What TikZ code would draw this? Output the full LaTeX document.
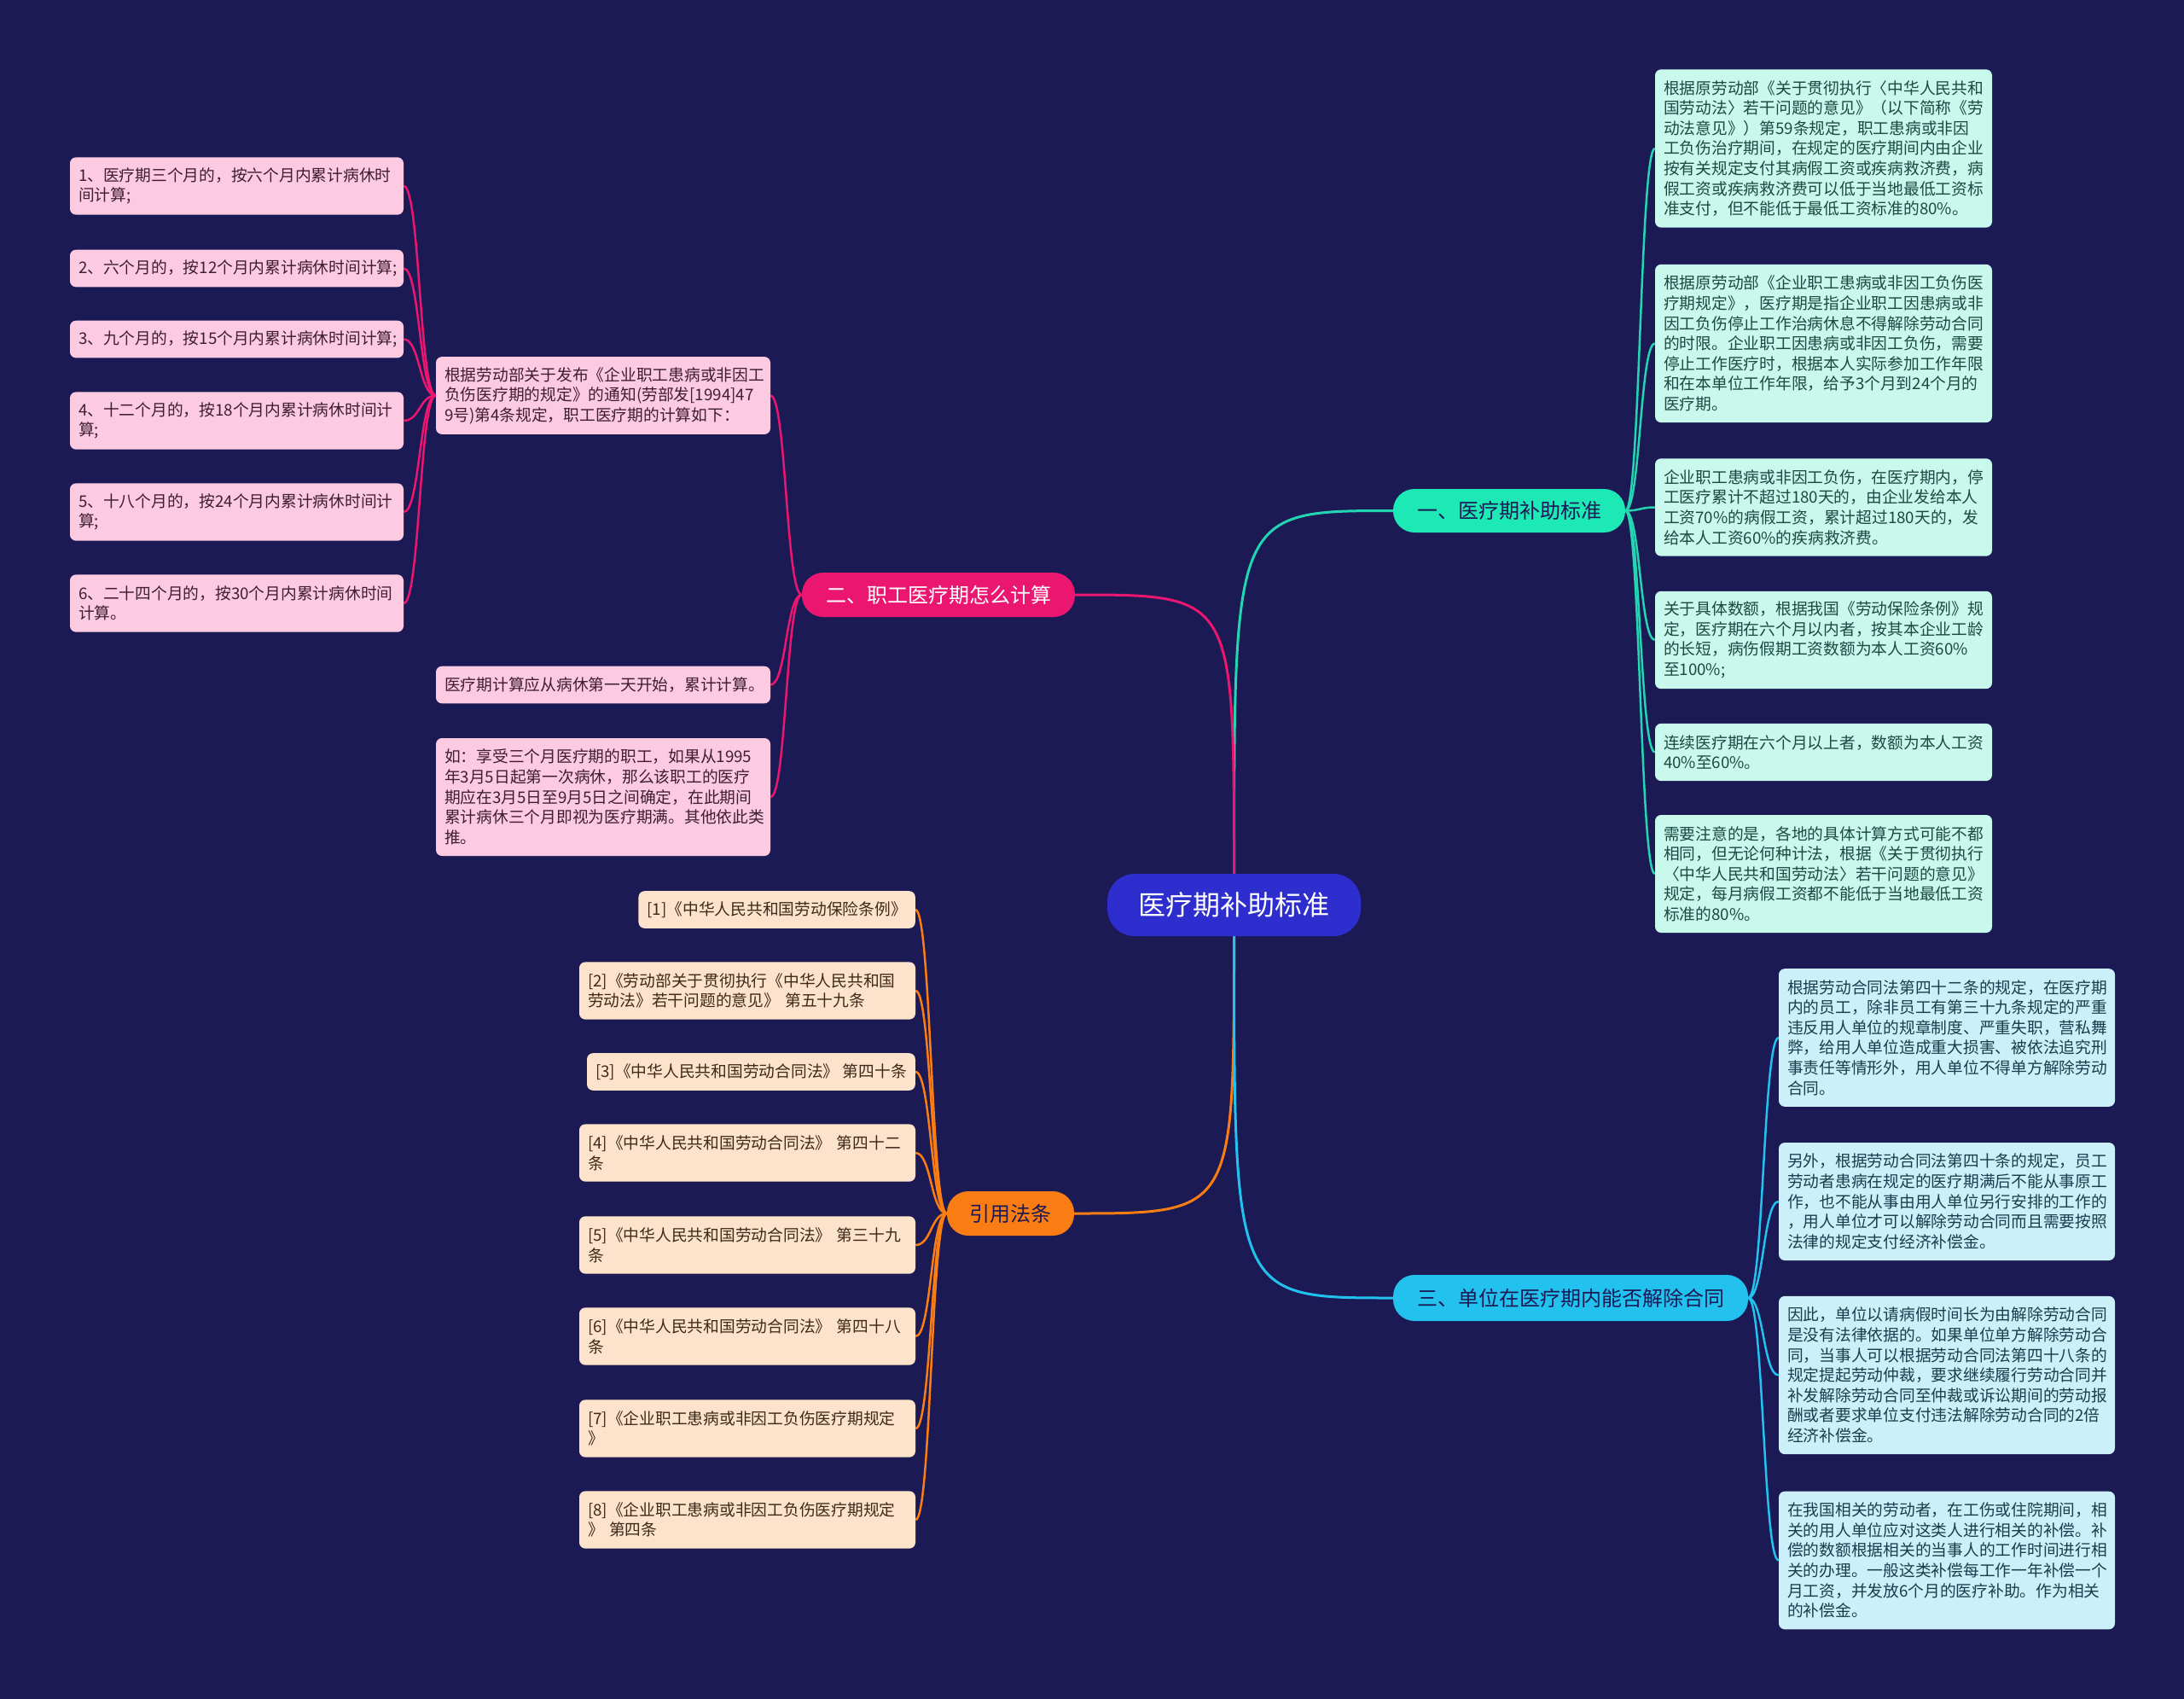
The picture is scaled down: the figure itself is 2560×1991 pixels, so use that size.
\documentclass[tikz,border=0pt]{standalone}
\usepackage{fontspec}
\newfontfamily\cjk{Noto Sans CJK SC}
\usetikzlibrary{calc}
\definecolor{bgc}{HTML}{1B1A55}
\definecolor{centerF}{HTML}{2E2ECF}
\definecolor{tealB}{HTML}{1DE9B6}
\definecolor{tealL}{HTML}{23D5B0}
\definecolor{tealF}{HTML}{C8F9EC}
\definecolor{tealT}{HTML}{1A4A42}
\definecolor{pinkB}{HTML}{EB1670}
\definecolor{pinkF}{HTML}{FCCBE1}
\definecolor{pinkT}{HTML}{3F1D33}
\definecolor{orangeB}{HTML}{FA7D14}
\definecolor{orangeF}{HTML}{FDE3CB}
\definecolor{orangeT}{HTML}{3E2A1A}
\definecolor{cyanB}{HTML}{22C1EE}
\definecolor{cyanF}{HTML}{CCF0FA}
\definecolor{cyanT}{HTML}{1A3D4D}
\definecolor{darkT}{HTML}{1B1A55}
\pgfdeclarelayer{back}
\pgfdeclarelayer{edges}
\pgfsetlayers{back,edges,main}
\tikzset{
  box/.style={rectangle, rounded corners=7pt, inner xsep=10pt, inner ysep=0pt, align=left,
    font=\cjk\fontsize{18.75}{23.6}\selectfont},
  nl/.style={minimum height={23.6*#1+20}},
  tbox/.style={box, fill=tealF, text=tealT, text width=375pt},
  cbox/.style={box, fill=cyanF, text=cyanT, text width=374pt},
  pbox/.style={box, fill=pinkF, text=pinkT, text width=371pt},
  lbox/.style={box, fill=pinkF, text=pinkT, text width=372pt},
  obox/.style={box, fill=orangeF, text=orangeT},
  branch/.style={rectangle, rounded corners=25pt, inner sep=0pt, align=center,
    font=\cjk\fontsize{24}{28}\selectfont},
  bl/.style={line width=3pt},
  cl/.style={line width=2.5pt},
}
\begin{document}
\begin{tikzpicture}[x=1pt,y=-1pt]
\begin{pgfonlayer}{back}
\fill[bgc] (0,0) rectangle (2560,1991);
\end{pgfonlayer}
\useasboundingbox (0,0) rectangle (2560,1991);

% center
\node[rectangle, rounded corners=32pt, fill=centerF, text=white, minimum width=297pt, minimum height=73pt,
  font=\cjk\fontsize{32}{36}\selectfont] (c) at (1446.5,1060.5) {医疗期补助标准};

% branches
\node[branch, fill=tealB, text=darkT, minimum width=272pt, minimum height=51pt] (b1) at (1769,598.5) {一、医疗期补助标准};
\node[branch, fill=pinkB, text=white, minimum width=320pt, minimum height=52pt] (b2) at (1100,697) {二、职工医疗期怎么计算};
\node[branch, fill=orangeB, text=darkT, minimum width=149pt, minimum height=52pt] (b3) at (1184.5,1422) {引用法条};
\node[branch, fill=cyanB, text=darkT, minimum width=416pt, minimum height=54pt] (b4) at (1841,1521) {三、单位在医疗期内能否解除合同};

% teal children
\node[tbox, nl=7] (r1) at (2137.5,174) {根据原劳动部《关于贯彻执行〈中华人民共和\\国劳动法〉若干问题的意见》（以下简称《劳\\动法意见》）第59条规定，职工患病或非因\\工负伤治疗期间，在规定的医疗期间内由企业\\按有关规定支付其病假工资或疾病救济费，病\\假工资或疾病救济费可以低于当地最低工资标\\准支付，但不能低于最低工资标准的80\%。};
\node[tbox, nl=7] (r2) at (2137.5,402.5) {根据原劳动部《企业职工患病或非因工负伤医\\疗期规定》，医疗期是指企业职工因患病或非\\因工负伤停止工作治病休息不得解除劳动合同\\的时限。企业职工因患病或非因工负伤，需要\\停止工作医疗时，根据本人实际参加工作年限\\和在本单位工作年限，给予3个月到24个月的\\医疗期。};
\node[tbox, nl=4] (r3) at (2137.5,594.5) {企业职工患病或非因工负伤，在医疗期内，停\\工医疗累计不超过180天的，由企业发给本人\\工资70\%的病假工资，累计超过180天的，发\\给本人工资60\%的疾病救济费。};
\node[tbox, nl=4] (r4) at (2137.5,750) {关于具体数额，根据我国《劳动保险条例》规\\定，医疗期在六个月以内者，按其本企业工龄\\的长短，病伤假期工资数额为本人工资60\%\\至100\%;};
\node[tbox, nl=2] (r5) at (2137.5,881.5) {连续医疗期在六个月以上者，数额为本人工资\\40\%至60\%。};
\node[tbox, nl=5] (r6) at (2137.5,1024) {需要注意的是，各地的具体计算方式可能不都\\相同，但无论何种计法，根据《关于贯彻执行\\〈中华人民共和国劳动法〉若干问题的意见》\\规定，每月病假工资都不能低于当地最低工资\\标准的80\%。};

% cyan children
\node[cbox, nl=6] (s1) at (2282,1216) {根据劳动合同法第四十二条的规定，在医疗期\\内的员工，除非员工有第三十九条规定的严重\\违反用人单位的规章制度、严重失职，营私舞\\弊，给用人单位造成重大损害、被依法追究刑\\事责任等情形外，用人单位不得单方解除劳动\\合同。};
\node[cbox, nl=5] (s2) at (2282,1408) {另外，根据劳动合同法第四十条的规定，员工\\劳动者患病在规定的医疗期满后不能从事原工\\作，也不能从事由用人单位另行安排的工作的\\，用人单位才可以解除劳动合同而且需要按照\\法律的规定支付经济补偿金。};
\node[cbox, nl=7] (s3) at (2282,1611.5) {因此，单位以请病假时间长为由解除劳动合同\\是没有法律依据的。如果单位单方解除劳动合\\同，当事人可以根据劳动合同法第四十八条的\\规定提起劳动仲裁，要求继续履行劳动合同并\\补发解除劳动合同至仲裁或诉讼期间的劳动报\\酬或者要求单位支付违法解除劳动合同的2倍\\经济补偿金。};
\node[cbox, nl=6] (s4) at (2282,1828.5) {在我国相关的劳动者，在工伤或住院期间，相\\关的用人单位应对这类人进行相关的补偿。补\\偿的数额根据相关的当事人的工作时间进行相\\关的办理。一般这类补偿每工作一年补偿一个\\月工资，并发放6个月的医疗补助。作为相关\\的补偿金。};

% pink level 2
\node[lbox, nl=3] (l1) at (707,463.5) {根据劳动部关于发布《企业职工患病或非因工\\负伤医疗期的规定》的通知(劳部发[1994]47\\9号)第4条规定，职工医疗期的计算如下：};
\node[lbox, nl=1] (l2) at (707,802.5) {医疗期计算应从病休第一天开始，累计计算。};
\node[lbox, nl=5] (l3) at (707,934) {如：享受三个月医疗期的职工，如果从1995\\年3月5日起第一次病休，那么该职工的医疗\\期应在3月5日至9月5日之间确定，在此期间\\累计病休三个月即视为医疗期满。其他依此类\\推。};

% pink level 3
\node[pbox, nl=2] (p1) at (277.5,218) {1、医疗期三个月的，按六个月内累计病休时\\间计算;};
\node[pbox, nl=1] (p2) at (277.5,314.5) {2、六个月的，按12个月内累计病休时间计算;};
\node[pbox, nl=1] (p3) at (277.5,397.5) {3、九个月的，按15个月内累计病休时间计算;};
\node[pbox, nl=2] (p4) at (277.5,493) {4、十二个月的，按18个月内累计病休时间计\\算;};
\node[pbox, nl=2] (p5) at (277.5,600) {5、十八个月的，按24个月内累计病休时间计\\算;};
\node[pbox, nl=2] (p6) at (277.5,707) {6、二十四个月的，按30个月内累计病休时间\\计算。};

% orange children
\node[obox, nl=1, anchor=east] (o1) at (1073,1066) {[1]《中华人民共和国劳动保险条例》};
\node[obox, text width=374pt, nl=2] (o2) at (876,1161) {[2]《劳动部关于贯彻执行《中华人民共和国\\劳动法》若干问题的意见》~第五十九条};
\node[obox, nl=1, anchor=east] (o3) at (1073,1256) {[3]《中华人民共和国劳动合同法》~第四十条};
\node[obox, text width=374pt, nl=2] (o4) at (876,1351) {[4]《中华人民共和国劳动合同法》~第四十二\\条};
\node[obox, text width=374pt, nl=2] (o5) at (876,1459) {[5]《中华人民共和国劳动合同法》~第三十九\\条};
\node[obox, text width=374pt, nl=2] (o6) at (876,1566) {[6]《中华人民共和国劳动合同法》~第四十八\\条};
\node[obox, text width=374pt, nl=2] (o7) at (876,1674) {[7]《企业职工患病或非因工负伤医疗期规定\\》};
\node[obox, text width=374pt, nl=2] (o8) at (876,1781) {[8]《企业职工患病或非因工负伤医疗期规定\\》~第四条};

\begin{pgfonlayer}{edges}
% center to branches
\draw[bl, tealL] (c.center) -- (c.north) .. controls (c.north |- b1.west) and (c.north |- b1.west) .. (b1.west);
\draw[bl, pinkB] (c.center) -- (c.north) .. controls (c.north |- b2.east) and (c.north |- b2.east) .. (b2.east);
\draw[bl, orangeB] (c.center) -- (c.south) .. controls (c.south |- b3.east) and (c.south |- b3.east) .. (b3.east);
\draw[bl, cyanB] (c.center) -- (c.south) .. controls (c.south |- b4.west) and (c.south |- b4.west) .. (b4.west);
% teal
\foreach \t in {r1,r2,r3,r4,r5,r6}
  \draw[cl, tealL] (b1.east) .. controls ([xshift=17.5pt]b1.east) and ([xshift=-17.5pt]\t.west) .. (\t.west);
% cyan
\foreach \t in {s1,s2,s3,s4}
  \draw[cl, cyanB] (b4.east) .. controls ([xshift=18pt]b4.east) and ([xshift=-18pt]\t.west) .. (\t.west);
% pink
\foreach \t in {l1,l2,l3}
  \draw[cl, pinkB] (b2.west) .. controls ([xshift=-18.5pt]b2.west) and ([xshift=18.5pt]\t.east) .. (\t.east);
\foreach \t in {p1,p2,p3,p4,p5,p6}
  \draw[cl, pinkB] (l1.west) .. controls ([xshift=-19pt]l1.west) and ([xshift=19pt]\t.east) .. (\t.east);
% orange
\foreach \t in {o1,o2,o3,o4,o5,o6,o7,o8}
  \draw[cl, orangeB] (b3.west) .. controls ([xshift=-18.5pt]b3.west) and ([xshift=18.5pt]\t.east) .. (\t.east);
\end{pgfonlayer}
\end{tikzpicture}
\end{document}
